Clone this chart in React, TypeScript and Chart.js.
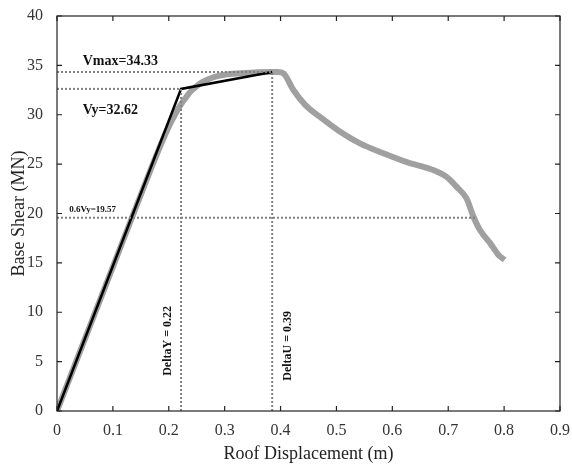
import React, { useEffect, useRef } from "react";
import { Chart, registerables } from "chart.js";

Chart.register(...registerables);

// Pushover curve (grey)
const pushDisp = [0, 0.05, 0.1, 0.15, 0.18, 0.2, 0.21, 0.22, 0.23, 0.24, 0.25, 0.26, 0.28, 0.3, 0.33, 0.36, 0.385, 0.395, 0.405, 0.423, 0.444, 0.47, 0.506, 0.542, 0.584, 0.626, 0.673, 0.697, 0.715, 0.733, 0.745, 0.757, 0.775, 0.79, 0.801];
const pushShear = [0, 7.3, 14.6, 21.9, 26.2, 28.8, 29.9, 30.9, 31.7, 32.4, 32.9, 33.3, 33.8, 34.05, 34.2, 34.3, 34.33, 34.33, 34.2, 32.5, 31.0, 29.8, 28.3, 27.1, 26.1, 25.2, 24.4, 23.7, 22.7, 21.5, 19.7, 18.3, 17.0, 15.8, 15.3];
// Bilinear idealisation (black)
const bilinDisp = [0, 0.222, 0.385];
const bilinShear = [0, 32.62, 34.33];
// Reference values
const vmax = 34.33;
const vy = 32.62;
const v06 = 19.57;
const deltaY = 0.222;
const deltaU = 0.385;
const v06End = 0.75;
const xTicks = [0, 0.1, 0.2, 0.3, 0.4, 0.5, 0.6, 0.7, 0.8, 0.9];
const yTicks = [0, 5, 10, 15, 20, 25, 30, 35, 40];

const SERIF = "'Liberation Serif', 'Times New Roman', serif";

export default function App() {
  const ref = useRef<HTMLCanvasElement>(null);
  useEffect(() => {
    document.body.style.margin = "0";
    const ctx = ref.current!.getContext("2d")!;
    const dotted = (pts: { x: number; y: number }[]) => ({
      data: pts,
      borderColor: "#808080",
      borderWidth: 2,
      borderDash: [2, 2],
      pointRadius: 0,
      fill: false,
      tension: 0,
      order: 0,
    });
    const framePlugin = {
      id: "frame",
      afterDraw(chart: any) {
        const c = chart.ctx;
        const { left, right, top, bottom } = chart.chartArea;
        const xs = chart.scales.x;
        const ys = chart.scales.y;
        c.save();
        c.strokeStyle = "#222";
        c.lineWidth = 1.2;
        c.strokeRect(left, top, right - left, bottom - top);
        const tl = 5;
        c.beginPath();
        xTicks.forEach((v) => {
          const px = xs.getPixelForValue(v);
          c.moveTo(px, bottom);
          c.lineTo(px, bottom - tl);
          c.moveTo(px, top);
          c.lineTo(px, top + tl);
        });
        yTicks.forEach((v) => {
          const py = ys.getPixelForValue(v);
          c.moveTo(left, py);
          c.lineTo(left + tl, py);
          c.moveTo(right, py);
          c.lineTo(right - tl, py);
        });
        c.stroke();
        // annotations
        c.fillStyle = "#111";
        c.textBaseline = "alphabetic";
        c.textAlign = "left";
        c.font = `bold 14px ${SERIF}`;
        c.fillText("Vmax=34.33", xs.getPixelForValue(0.046), ys.getPixelForValue(35.0));
        c.fillText("Vy=32.62", xs.getPixelForValue(0.046), ys.getPixelForValue(30.1));
        c.font = `bold 9px ${SERIF}`;
        c.fillText("0.6Vy=19.57", xs.getPixelForValue(0.022), ys.getPixelForValue(20.2));
        c.font = `bold 12px ${SERIF}`;
        c.textAlign = "center";
        c.textBaseline = "middle";
        const rot = (t: string, x: number, y: number) => {
          c.save();
          c.translate(xs.getPixelForValue(x), ys.getPixelForValue(y));
          c.rotate(-Math.PI / 2);
          c.fillText(t, 0, 0);
          c.restore();
        };
        rot("DeltaY = 0.22", 0.198, 7.1);
        rot("DeltaU = 0.39", 0.413, 6.6);
        c.restore();
      },
    };
    const chart = new Chart(ctx, {
      type: "line",
      data: {
        datasets: [
          dotted([{ x: 0, y: vmax }, { x: deltaU, y: vmax }]),
          dotted([{ x: 0, y: vy }, { x: deltaY, y: vy }]),
          dotted([{ x: 0, y: v06 }, { x: v06End, y: v06 }]),
          dotted([{ x: deltaY, y: 0 }, { x: deltaY, y: vy }]),
          dotted([{ x: deltaU, y: 0 }, { x: deltaU, y: vmax }]),
          {
            data: pushDisp.map((x, i) => ({ x, y: pushShear[i] })),
            borderColor: "#a0a0a0",
            borderWidth: 6,
            pointRadius: 0,
            cubicInterpolationMode: "monotone",
            fill: false,
            order: 2,
          } as any,
          {
            data: bilinDisp.map((x, i) => ({ x, y: bilinShear[i] })),
            borderColor: "#000",
            borderWidth: 2.6,
            pointRadius: 0,
            tension: 0,
            fill: false,
            order: 1,
          } as any,
        ],
      },
      options: {
        animation: false,
        responsive: false,
        maintainAspectRatio: false,
        layout: { padding: { top: 16, right: 11, left: 0, bottom: 0 } },
        plugins: { legend: { display: false }, tooltip: { enabled: false } },
        scales: {
          x: {
            type: "linear",
            min: 0,
            max: 0.9,
            grid: { display: false },
            border: { display: false },
            afterFit: (s: any) => {
              s.height = 54;
            },
            afterBuildTicks: (s: any) => {
              s.ticks = xTicks.map((v) => ({ value: v }));
            },
            ticks: {
              color: "#333",
              padding: 2,
              font: { family: SERIF, size: 16 },
              callback: (v: any) => String(Number(v)),
            },
            title: {
              display: true,
              text: "Roof Displacement (m)",
              color: "#222",
              font: { family: SERIF, size: 18 },
              padding: { top: 0, bottom: 0 },
            },
          },
          y: {
            type: "linear",
            min: 0,
            max: 40,
            grid: { display: false },
            border: { display: false },
            afterFit: (s: any) => {
              s.width = 57;
            },
            afterBuildTicks: (s: any) => {
              s.ticks = yTicks.map((v) => ({ value: v }));
            },
            ticks: {
              color: "#333",
              padding: 6,
              font: { family: SERIF, size: 16 },
            },
            title: {
              display: true,
              text: "Base Shear (MN)",
              color: "#222",
              font: { family: SERIF, size: 18 },
              padding: { top: 8, bottom: 2 },
            },
          },
        },
      },
      plugins: [framePlugin],
    });
    return () => chart.destroy();
  }, []);
  return (
    <div style={{ width: 572, height: 465, background: "#fff" }}>
      <canvas ref={ref} width={572} height={465} style={{ width: 572, height: 465, display: "block" }} />
    </div>
  );
}
